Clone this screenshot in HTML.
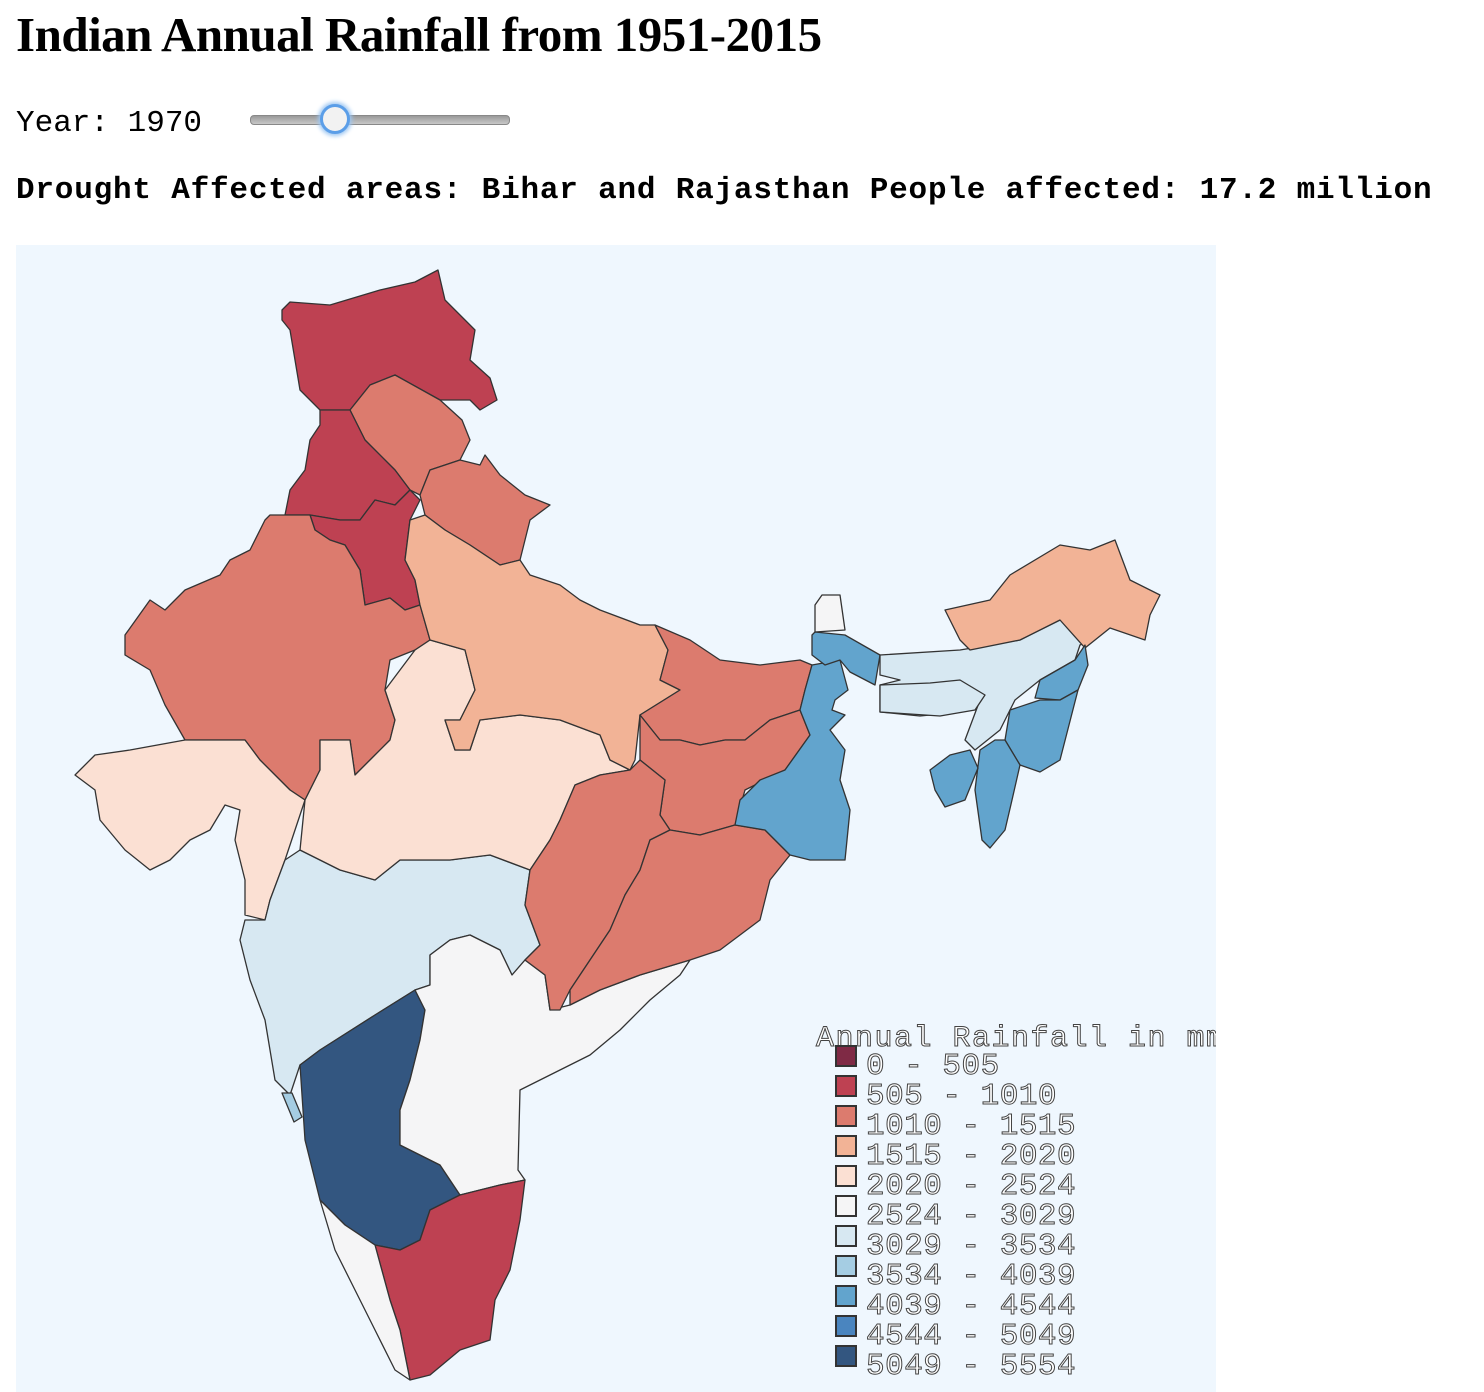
<!DOCTYPE html>
<html><head><meta charset="utf-8">
<style>
body{margin:0;background:#fff;width:1484px;height:1392px;overflow:hidden;position:relative;font-family:"Liberation Serif",serif}
h1{position:absolute;left:16px;top:6px;margin:0;font-size:49px;font-weight:bold;letter-spacing:-0.5px}
.mono{font-family:"Liberation Mono",monospace}
#yr{position:absolute;left:16px;top:106px;font-size:31px}
#drought{position:absolute;left:16px;top:173px;font-size:31px;font-weight:bold;white-space:nowrap;letter-spacing:0.8px}
#track{position:absolute;left:250px;top:115px;width:258px;height:8px;border-radius:4px;background:linear-gradient(#999,#c8c8c8);border:1px solid #888}
#thumb{position:absolute;left:320px;top:104px;width:24px;height:24px;border-radius:50%;background:#f2f2f2;border:3px solid #5b9ee8;box-shadow:0 0 4px 2px #9cc6f2}
svg{position:absolute;left:0;top:0}
</style></head><body>
<h1>Indian Annual Rainfall from 1951-2015</h1>
<div id="yr" class="mono">Year: 1970</div>
<div id="track"></div>
<div id="thumb"></div>
<div id="drought" class="mono">Drought Affected areas: Bihar and Rajasthan People affected: 17.2 million</div>
<svg id="map" width="1484" height="1392">
<defs><clipPath id="mapclip"><rect x="16" y="245" width="1200" height="1147"/></clipPath></defs>
<rect x="16" y="245" width="1200" height="1147" fill="#eff7fe"/>
<g id="states"></g>
<g id="legend" clip-path="url(#mapclip)"></g>
</svg>
<script>
const binEdges=[0,505,1010,1515,2020,2524,3029,3534,4039,4544,5049,5554];
const binColors=["#7f2a45","#be4152","#dc7b6e","#f2b396","#fbe0d3","#f5f5f6","#d7e8f2","#a5cde3","#62a4cd","#4a85bf","#335680"];
const stateNames=["jammu-kashmir","himachal","punjab","haryana","uttarakhand","rajasthan","gujarat","maharashtra","goa","karnataka","andhra","tamil-nadu","kerala","madhya-pradesh","uttar-pradesh","bihar","jharkhand","chhattisgarh","odisha","west-bengal","west-bengal-north","sikkim","assam","meghalaya","arunachal","nagaland","manipur","mizoram","tripura"];
const rainfall=[800,1300,780,790,1350,1250,2200,3200,3700,5300,2800,850,2700,2300,1800,1260,1280,1300,1310,4300,4300,2700,3300,3300,1800,4300,4300,4300,4300];
const shapes=[
"282,310 290,302 330,305 380,290 415,282 438,270 445,300 475,330 470,360 490,378 497,400 480,410 470,400 440,400 395,375 370,385 350,410 320,410 300,390 295,360 290,330 282,320",
"350,410 370,385 395,375 440,400 462,420 470,440 460,460 430,470 420,495 410,490 395,470 365,440",
"320,410 350,410 365,440 395,470 410,490 395,505 375,500 360,520 340,520 310,515 285,515 290,490 305,470 310,440 320,425",
"310,515 340,520 360,520 375,500 395,505 410,490 420,500 410,520 405,560 415,580 420,605 405,610 390,598 365,605 360,570 345,545 330,540 315,530",
"430,470 460,460 480,465 485,455 500,475 525,495 550,505 530,520 520,560 500,565 470,545 445,530 425,515 420,495",
"270,515 310,515 315,530 330,540 345,545 360,570 365,605 390,598 405,610 420,605 430,640 415,650 390,660 385,690 395,720 390,740 370,760 355,775 350,740 320,740 320,770 305,800 290,790 260,760 245,740 185,740 165,705 150,670 125,655 125,635 150,600 165,610 185,590 220,575 230,560 250,550 265,520",
"80,770 95,755 130,750 185,740 245,740 260,760 290,790 305,800 295,830 285,860 270,900 265,920 245,915 245,880 235,840 240,810 225,805 210,830 190,840 170,860 150,870 125,850 100,820 95,790 75,775",
"245,920 265,920 270,900 285,860 300,850 340,870 375,880 400,860 450,860 490,855 530,870 525,905 540,945 525,960 512,975 500,950 470,935 450,940 430,955 430,985 415,990 375,1015 320,1050 300,1065 290,1095 275,1080 265,1020 250,980 240,940",
"282,1093 292,1093 302,1117 294,1122",
"300,1065 320,1050 375,1015 415,990 425,1010 420,1040 410,1080 400,1110 400,1145 440,1165 460,1195 430,1210 420,1240 400,1250 375,1245 345,1225 320,1200 305,1140",
"430,955 450,940 470,935 500,950 512,975 525,960 545,975 550,1010 570,1005 600,990 640,975 690,960 680,975 650,1000 620,1030 590,1055 560,1070 520,1090 518,1170 525,1180 500,1185 460,1195 440,1165 400,1145 400,1110 410,1080 420,1040 425,1010 415,990 430,985",
"460,1195 500,1185 525,1180 520,1220 510,1270 495,1300 490,1340 460,1350 430,1375 410,1380 400,1330 390,1300 375,1245 400,1250 420,1240 430,1210",
"320,1200 345,1225 375,1245 390,1300 400,1330 410,1380 395,1370 375,1330 355,1290 335,1250",
"300,850 305,800 320,770 320,740 350,740 355,775 370,760 390,740 395,720 385,690 415,650 430,640 465,650 475,690 460,720 445,720 455,750 470,750 480,720 520,715 560,720 600,735 610,760 630,770 600,775 575,785 560,820 550,840 530,870 490,855 450,860 400,860 375,880 340,870",
"405,560 410,520 425,515 445,530 470,545 500,565 520,560 530,575 560,585 580,600 600,610 640,625 655,625 668,650 660,680 680,690 640,715 635,760 630,770 610,760 600,735 560,720 520,715 480,720 470,750 455,750 445,720 460,720 475,690 465,650 430,640 420,605 415,580",
"655,625 690,640 720,660 760,665 800,660 812,665 805,690 800,710 770,720 745,740 725,740 700,745 680,740 660,740 640,715 680,690 660,680 668,650",
"640,715 660,740 680,740 700,745 725,740 745,740 770,720 800,710 810,735 785,770 745,790 735,825 700,835 670,830 660,815 665,780 640,760",
"630,770 640,760 665,780 660,815 670,830 650,840 640,870 625,895 610,930 590,960 570,990 560,1010 550,1010 545,975 525,960 540,945 525,905 530,870 550,840 560,820 575,785 600,775",
"670,830 700,835 735,825 765,830 790,855 770,880 760,920 720,950 690,960 640,975 600,990 570,1005 570,990 590,960 610,930 625,895 640,870 650,840",
"812,665 840,660 848,690 835,700 832,710 845,715 830,730 845,750 840,780 850,810 845,860 810,860 790,855 765,830 735,825 740,800 760,780 785,770 810,735 800,710 805,690",
"812,635 815,632 845,635 880,655 875,685 850,672 840,660 825,665 812,655",
"815,605 822,595 840,595 845,630 815,632",
"880,655 960,650 1020,640 1060,620 1105,602 1110,625 1090,640 1080,645 1075,660 1040,680 1015,700 1000,730 975,750 965,740 980,700 960,712 920,716 880,712 880,685 900,680 880,675",
"880,685 930,683 960,680 985,695 975,710 940,716 880,712",
"945,610 990,600 1010,575 1060,545 1090,550 1115,540 1130,580 1160,595 1150,615 1145,640 1110,628 1085,648 1060,620 1020,640 970,650 960,640",
"1075,660 1085,645 1088,665 1078,690 1060,700 1035,698 1040,680",
"1060,700 1078,690 1060,760 1040,772 1020,765 1005,740 1010,710 1040,700",
"995,740 1005,740 1020,765 1012,800 1005,830 990,848 982,840 975,790 980,750",
"930,770 950,755 970,750 978,768 965,800 945,807 935,790"];
function binIndex(v){for(let i=0;i<binEdges.length-1;i++){if(v<binEdges[i+1])return i;}return binColors.length-1;}
const NS="http://www.w3.org/2000/svg";
const g=document.getElementById('states');
for(let i=0;i<shapes.length;i++){
 const p=document.createElementNS(NS,'polygon');
 p.setAttribute('points',shapes[i]);
 p.setAttribute('fill',binColors[binIndex(rainfall[i])]);
 p.setAttribute('stroke','#333');
 p.setAttribute('stroke-width','1.3');
 p.setAttribute('stroke-linejoin','round');
 
 
 g.appendChild(p);
}
const lg=document.getElementById('legend');
const title=document.createElementNS(NS,'text');
title.setAttribute('x','816');title.setAttribute('y','1046');
title.setAttribute('font-family','"Liberation Mono",monospace');title.setAttribute('font-size','30');
title.setAttribute('letter-spacing','1.5');
title.setAttribute('fill','#fff');title.setAttribute('stroke','#444');title.setAttribute('stroke-width','1');
title.textContent='Annual Rainfall in mm';


lg.appendChild(title);
for(let i=0;i<binColors.length;i++){
 const y=1046+i*30;
 const r=document.createElementNS(NS,'rect');
 r.setAttribute('x','836');r.setAttribute('y',y);r.setAttribute('width','20');r.setAttribute('height','20');
 r.setAttribute('fill',binColors[i]);r.setAttribute('stroke','#333');r.setAttribute('stroke-width','2');
 
 
 lg.appendChild(r);
 const t=document.createElementNS(NS,'text');
 t.setAttribute('x','866');t.setAttribute('y',y+28);
 t.setAttribute('font-family','"Liberation Mono",monospace');t.setAttribute('font-size','31');
 t.setAttribute('letter-spacing','0.5');
 t.setAttribute('fill','#fff');t.setAttribute('stroke','#444');t.setAttribute('stroke-width','1');
 t.textContent=binEdges[i]+' - '+binEdges[i+1];
 
 
 lg.appendChild(t);
}
</script>
</body></html>
